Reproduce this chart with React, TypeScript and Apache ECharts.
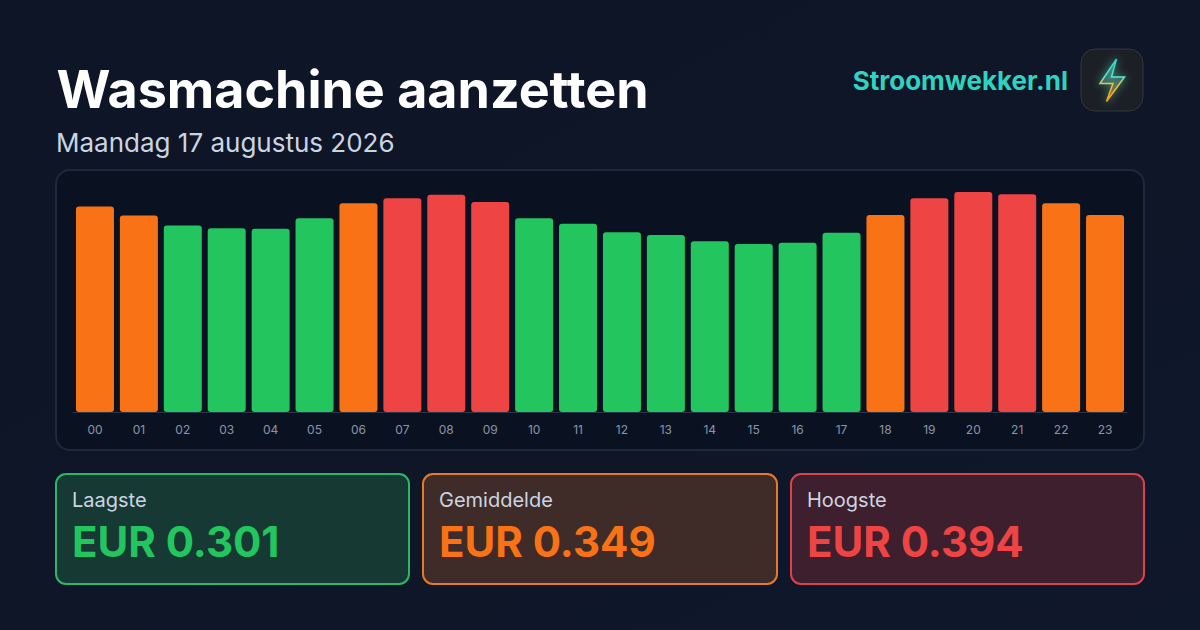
import React, { useEffect, useRef } from "react";
import * as echarts from "echarts";

const hours = ["00","01","02","03","04","05","06","07","08","09","10","11","12","13","14","15","16","17","18","19","20","21","22","23"];
const prices = [0.368,0.352,0.334,0.329,0.328,0.347,0.374,0.383,0.389,0.376,0.347,0.337,0.322,0.317,0.306,0.301,0.303,0.321,0.353,0.383,0.394,0.390,0.374,0.353];
const levels = ["m","m","l","l","l","l","m","h","h","h","l","l","l","l","l","l","l","l","m","h","h","h","m","m"];
const levelColors: Record<string, string> = { l: "#22c55e", m: "#f97316", h: "#ef4444" };
const title = "Wasmachine aanzetten";
const subtitle = "Maandag 17 augustus 2026";
const brand = "Stroomwekker.nl";
const cardLabels = ["Laagste", "Gemiddelde", "Hoogste"];
const cardValues = ["EUR 0.301", "EUR 0.349", "EUR 0.394"];
const cardColors = ["#22c55e", "#f97316", "#ef4444"];
const cardBorders = ["#2bb765", "#e57a2a", "#d9434a"];
const cardFills = ["#163a33", "#3f2c28", "#3e1f2d"];
const cardX = [56, 423, 791];
const cardW = [353, 354, 353];

const font = "Inter";

export default function App() {
  const ref = useRef<HTMLDivElement>(null);
  useEffect(() => {
    document.body.style.margin = "0";
    const chart = echarts.init(ref.current!, null, { renderer: "svg" });
    const cards: any[] = [];
    cardLabels.forEach((label, i) => {
      cards.push({
        type: "rect", z: 0,
        shape: { x: cardX[i], y: 474, width: cardW[i], height: 110, r: 10 },
        style: { fill: cardFills[i], stroke: cardBorders[i], lineWidth: 2 },
      });
      cards.push({
        type: "text", z: 1, x: cardX[i] + 16, y: 500,
        style: { text: label, font: `400 20px ${font}`, fill: "#cbd5e1", textVerticalAlign: "middle" },
      });
      cards.push({
        type: "text", z: 1, x: cardX[i] + 16, y: 541,
        style: { text: cardValues[i], font: `700 42px ${font}`, fill: cardColors[i], textVerticalAlign: "middle" },
      });
    });
    chart.setOption({
      animation: false,
      backgroundColor: {
        type: "linear", x: 0, y: 0, x2: 1, y2: 1,
        colorStops: [{ offset: 0, color: "#0d1526" }, { offset: 1, color: "#0f172a" }],
      },
      grid: { left: 73, right: 73, top: 192, height: 220, containLabel: false },
      xAxis: {
        type: "category", data: hours,
        axisTick: { show: false },
        axisLine: { show: true, lineStyle: { color: "#2a3648", width: 1 } },
        axisLabel: { color: "#8b95a5", fontFamily: font, fontSize: 12, margin: 11 },
        z: 1,
      },
      yAxis: { type: "value", min: 0, max: 0.394, show: false, splitLine: { show: false } },
      series: [{
        type: "bar", barWidth: 38, z: 3,
        data: prices.map((v, i) => ({
          value: v,
          itemStyle: { color: levelColors[levels[i]], borderRadius: 3 },
        })),
      }],
      graphic: { elements: [
        {
          type: "rect", z: 0,
          shape: { x: 56, y: 170, width: 1088, height: 280, r: 14 },
          style: { fill: "#0a1222", stroke: "#1e293b", lineWidth: 2 },
        },
        { type: "text", z: 1, x: 56.5, y: 89, style: { text: title, font: `700 52px ${font}`, fill: "#ffffff", textVerticalAlign: "middle" } },
        { type: "text", z: 1, x: 56, y: 142, style: { text: subtitle, font: `400 26px ${font}`, fill: "#cbd5e1", textVerticalAlign: "middle" } },
        { type: "text", z: 1, x: 1068, y: 80, style: { text: brand, font: `700 26px ${font}`, fill: "#2dd4bf", textAlign: "right", textVerticalAlign: "middle" } },
        {
          type: "rect", z: 1,
          shape: { x: 1081, y: 49, width: 62, height: 62, r: 14 },
          style: { fill: "#1c2026", stroke: "#33373e", lineWidth: 1 },
        },
        {
          type: "polygon", z: 2,
          shape: { points: [[1116.5, 59], [1100, 83.5], [1113, 83.5], [1106.5, 101.5], [1124.5, 77], [1111.5, 77]] },
          style: {
            fill: {
              type: "linear", x: 0, y: 0, x2: 0, y2: 1,
              colorStops: [{ offset: 0, color: "rgba(45,212,191,0.75)" }, { offset: 0.5, color: "rgba(80,120,110,0.5)" }, { offset: 1, color: "rgba(245,158,11,0.55)" }],
            },
            stroke: {
              type: "linear", x: 0, y: 0, x2: 0, y2: 1,
              colorStops: [{ offset: 0, color: "#2dd4bf" }, { offset: 0.45, color: "#5eead4" }, { offset: 0.62, color: "#fbbf24" }, { offset: 1, color: "#f59e0b" }],
            },
            lineWidth: 1.5,
            shadowBlur: 8,
            shadowColor: "rgba(80,200,170,0.8)",
          },
        },
        ...cards,
      ] },
    });
    return () => chart.dispose();
  }, []);
  return <div ref={ref} style={{ width: 1200, height: 630 }} />;
}
